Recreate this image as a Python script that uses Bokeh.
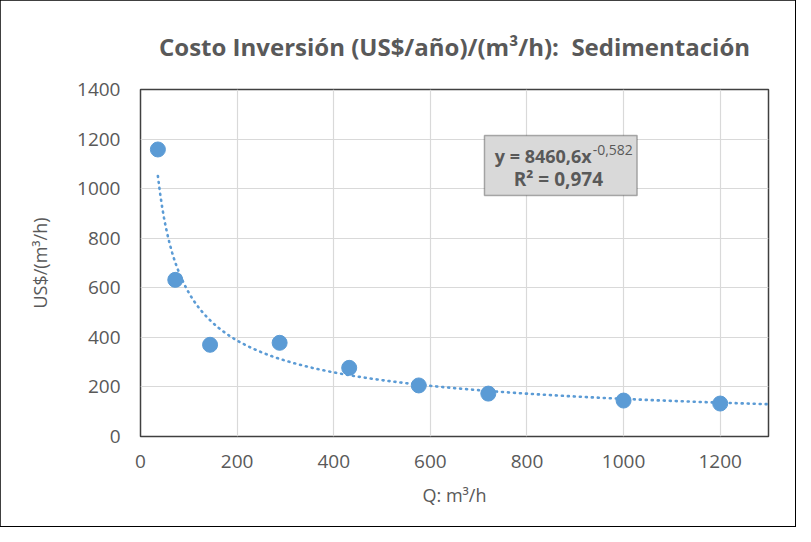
import numpy as np
from bokeh.plotting import figure
from bokeh.models import Label, BoxAnnotation, FixedTicker, Range1d
from bokeh.embed import file_html
from bokeh.resources import INLINE

# data
q = [36, 72, 144, 288, 432, 576, 720, 1000, 1200]
cost = [1158, 632, 370, 378, 277, 206, 173, 145, 133]
coef_a = 8460.6
coef_b = -0.582
r2_text = "0,974"
x_ticks = [0, 200, 400, 600, 800, 1000, 1200]
y_ticks = [0, 200, 400, 600, 800, 1000, 1200, 1400]

title_text = "Costo Inversión (US$/año)/(m³/h):\u00a0 Sedimentación"
x_label = "Q: m³/h"
y_label = "US$/(m³/h)"

FONT = "Open Sans"
GRAY = "#595959"
BLUE = "#5b9bd5"

p = figure(width=795, height=526, output_backend="svg", toolbar_location=None,
           x_range=Range1d(0, 1300), y_range=Range1d(0, 1400),
           min_border_left=140, min_border_right=27, min_border_top=89, min_border_bottom=90,
           title=title_text)
p.styles = {"outline": "2px solid black", "outline-offset": "-1px"}
p.outline_line_color = "#404040"
p.outline_line_width = 1.5
p.background_fill_color = "white"

p.title.align = "center"
p.title.text_font = FONT
p.title.text_font_style = "bold"
p.title.text_font_size = "24px"
p.title.text_color = GRAY
p.title.standoff = 54

for ax in (p.xaxis, p.yaxis):
    ax.axis_line_color = None
    ax.major_tick_line_color = None
    ax.minor_tick_line_color = None
    ax.major_label_text_font = FONT
    ax.major_label_text_font_size = "19px"
    ax.major_label_text_color = GRAY
    ax.axis_label_text_font = FONT
    ax.axis_label_text_font_size = "18px"
    ax.axis_label_text_color = GRAY
    ax.axis_label_text_font_style = "normal"

p.xaxis.ticker = FixedTicker(ticks=x_ticks)
p.yaxis.ticker = FixedTicker(ticks=y_ticks)
p.xaxis.major_label_standoff = 12
p.yaxis.major_label_standoff = 14
p.xaxis.axis_label = x_label
p.yaxis.axis_label = y_label
p.xaxis.axis_label_standoff = 12
p.yaxis.axis_label_standoff = 22

p.xgrid.grid_line_color = "#d9d9d9"
p.ygrid.grid_line_color = "#d9d9d9"
p.xgrid.grid_line_width = 1.2
p.ygrid.grid_line_width = 1.2

# trend line from the fitted equation
xt = np.linspace(min(q), 1300, 300)
yt = coef_a * xt ** coef_b
p.line(xt, yt, line_color=BLUE, line_width=2.6, line_dash="1 5", line_cap="round")

p.scatter(q, cost, size=15, fill_color=BLUE, line_color=BLUE)

# equation box
p.add_layout(BoxAnnotation(left=712, right=1028, bottom=972, top=1214,
                           fill_color="#d9d9d9", fill_alpha=1.0,
                           line_color="black", line_width=1.5, level="overlay"))
p.add_layout(Label(x=934, y=1130, text="y = 8460,6x", text_align="right",
                   text_baseline="middle", text_font=FONT, text_font_style="bold",
                   text_font_size="18px", text_color=GRAY, level="overlay"))
p.add_layout(Label(x=936, y=1155, text="-0,582", text_align="left",
                   text_baseline="middle", text_font=FONT,
                   text_font_size="14px", text_color=GRAY, level="overlay"))
p.add_layout(Label(x=865, y=1040, text="R² = " + r2_text, text_align="center",
                   text_baseline="middle", text_font=FONT, text_font_style="bold",
                   text_font_size="19px", text_color=GRAY, level="overlay"))

open("out.html", "w").write(file_html(p, INLINE))
